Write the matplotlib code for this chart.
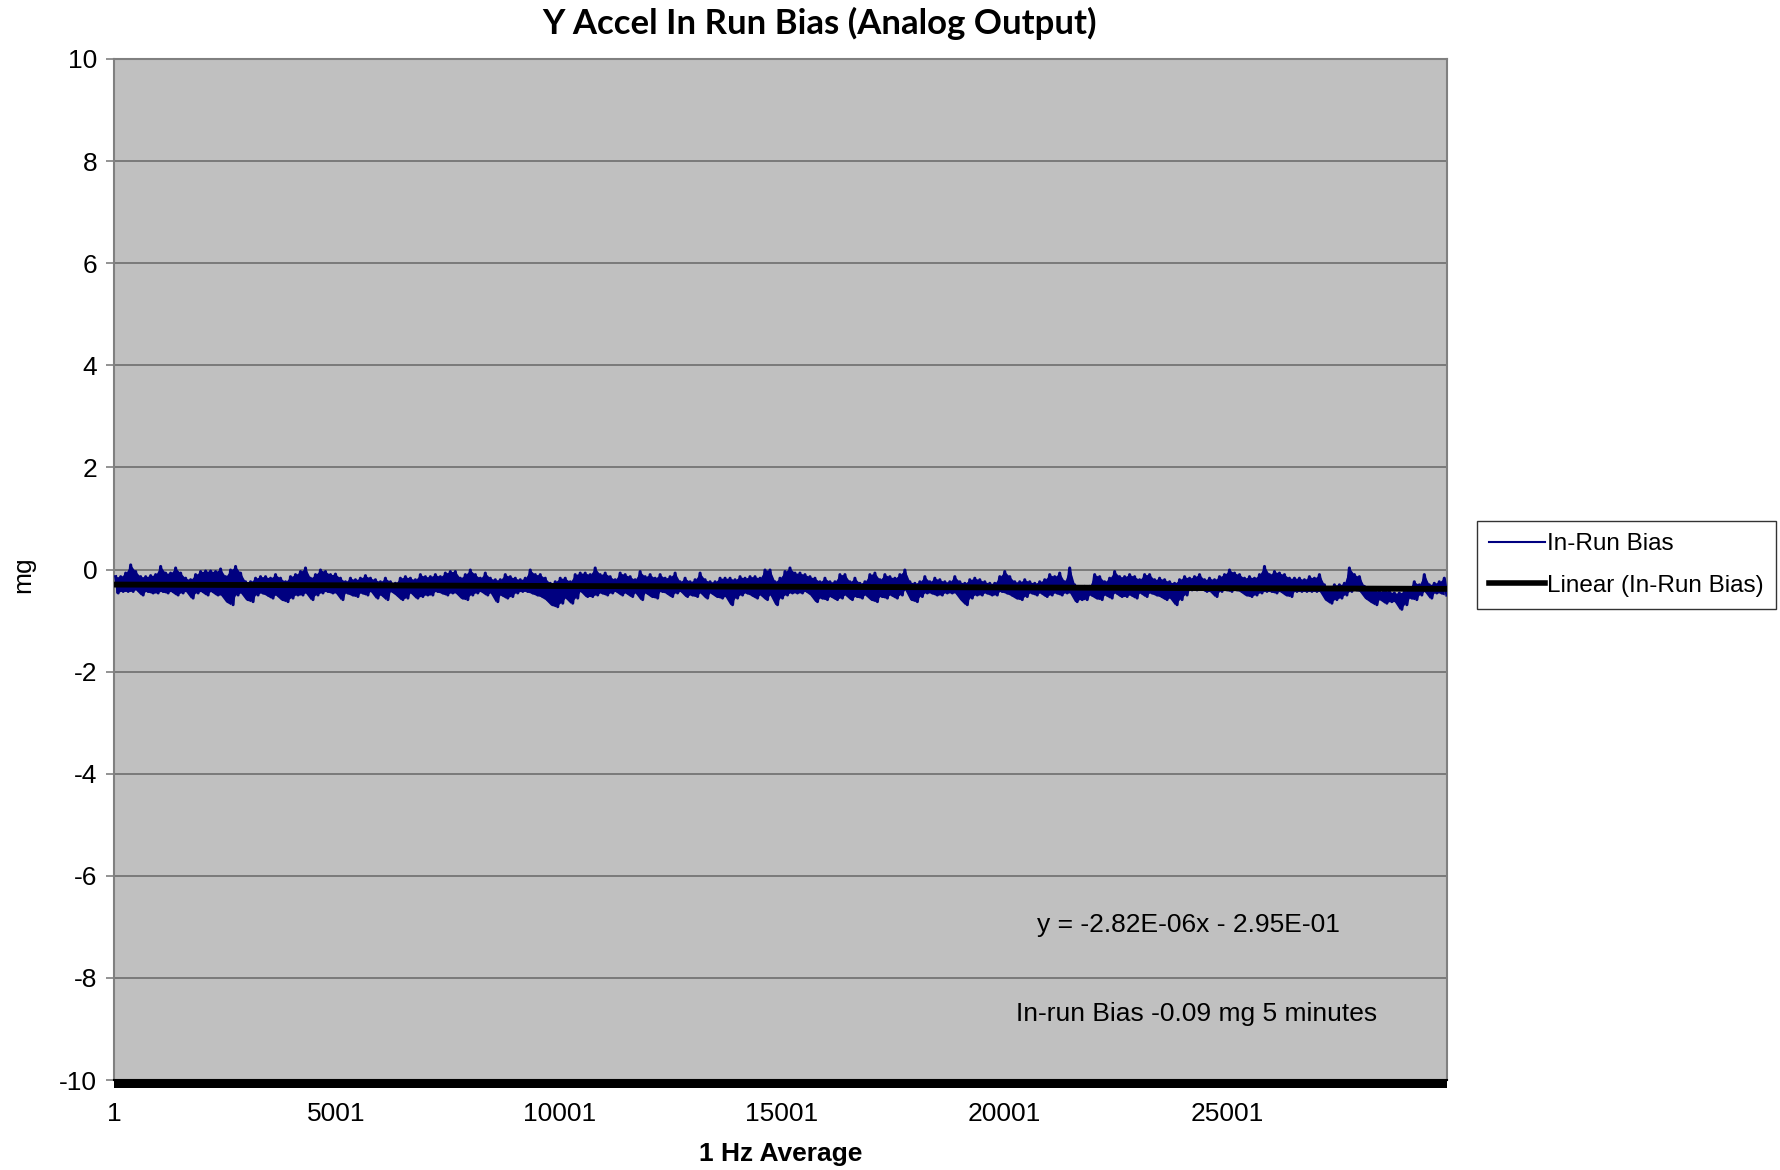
import numpy as np
import matplotlib
matplotlib.use("Agg")
import matplotlib.pyplot as plt
from matplotlib.patches import Rectangle
from matplotlib.lines import Line2D

# ---------------- data ----------------
title = "Y Accel In Run Bias (Analog Output)"
x_label = "1 Hz Average"
y_label = "mg"
x_ticks = [1, 5001, 10001, 15001, 20001, 25001]
y_ticks = [-10, -8, -6, -4, -2, 0, 2, 4, 6, 8, 10]
n_samples = 29945

first_sample = 39
sample_step = 112.2

# upper envelope of the 1 Hz trace (mg)
trace_top = [
    -0.14, -0.14, -0.07, 0.09, -0.04, -0.14, -0.14, -0.12, -0.10, 0.06,
    -0.07, -0.07, 0.03, -0.07, -0.17, -0.20, -0.10, -0.04, -0.03, -0.03,
    -0.04, 0.01, -0.14, -0.01, 0.06, -0.07, -0.24, -0.24, -0.17, -0.14,
    -0.14, -0.17, -0.10, -0.17, -0.24, -0.14, -0.10, -0.04, 0.03, -0.17,
    -0.10, -0.01, -0.04, -0.10, -0.09, -0.17, -0.24, -0.17, -0.20, -0.17,
    -0.12, -0.17, -0.20,
    -0.24, -0.17, -0.24, -0.27, -0.17, -0.14, -0.17, -0.20, -0.10, -0.14,
    -0.14, -0.10, -0.14, -0.07, -0.04, -0.04, -0.17, -0.10, -0.01, -0.10,
    -0.17, -0.07, -0.17, -0.20, -0.20, -0.10, -0.14, -0.17, -0.20, -0.17,
    -0.01, -0.10, -0.10, -0.17, -0.27, -0.24, -0.17, -0.17, -0.24, -0.10,
    -0.07, -0.07, -0.10, 0.03, -0.10, -0.07, -0.14, -0.20, -0.07, -0.10,
    -0.14, -0.20, -0.04, -0.14,
    -0.10, -0.17, -0.10, -0.17, -0.14, -0.07, -0.24, -0.17, -0.24, -0.20,
    -0.07, -0.20, -0.24, -0.24, -0.17, -0.17, -0.17, -0.20, -0.14, -0.17,
    -0.14, -0.14, -0.17, -0.01, -0.01, -0.24, -0.17, -0.04, 0.03, -0.07,
    -0.07, -0.10, -0.14, -0.17, -0.24, -0.17, -0.24, -0.24, -0.10, -0.10,
    -0.24, -0.17, -0.27, -0.24, -0.10, -0.07, -0.20, -0.10, -0.14, -0.17,
    -0.10, -0.01, -0.24, -0.27,
    -0.24, -0.14, -0.24, -0.17, -0.20, -0.24, -0.24, -0.14, -0.24, -0.27,
    -0.20, -0.17, -0.20, -0.24, -0.27, -0.27, -0.14, -0.04, -0.14, -0.24,
    -0.24, -0.20, -0.24, -0.27, -0.24, -0.20, -0.10, -0.14, -0.07, -0.24,
    0.03, -0.30, -0.37, -0.33, -0.33, -0.10, -0.14, -0.24, -0.17, -0.04,
    -0.14, -0.14, -0.10, -0.14, -0.20, -0.10, -0.10, -0.20, -0.17, -0.20,
    -0.24, -0.27, -0.20, -0.14,
    -0.17, -0.14, -0.10, -0.20, -0.17, -0.20, -0.14, -0.10, -0.01, -0.07,
    -0.10, -0.17, -0.14, -0.17, -0.10, 0.06, -0.10, -0.04, -0.07, -0.10,
    -0.17, -0.17, -0.17, -0.20, -0.14, -0.17, -0.10, -0.30, -0.37, -0.30,
    -0.30, -0.27, 0.03, -0.10, -0.14, -0.33, -0.40, -0.40, -0.43, -0.40,
    -0.43, -0.46, -0.46, -0.43, -0.37, -0.24, -0.30, -0.10, -0.30, -0.27,
    -0.24, -0.17,
]

# lower envelope of the 1 Hz trace (mg)
trace_bottom = [
    -0.46, -0.43, -0.43, -0.43, -0.40, -0.50, -0.43, -0.46, -0.46, -0.43,
    -0.46, -0.43, -0.50, -0.46, -0.43, -0.56, -0.46, -0.43, -0.50, -0.43,
    -0.50, -0.50, -0.63, -0.69, -0.50, -0.46, -0.59, -0.63, -0.50, -0.46,
    -0.50, -0.56, -0.50, -0.59, -0.63, -0.56, -0.50, -0.50, -0.46, -0.59,
    -0.50, -0.46, -0.43, -0.46, -0.46, -0.59, -0.46, -0.50, -0.53, -0.46,
    -0.50, -0.43, -0.56,
    -0.50, -0.59, -0.43, -0.50, -0.59, -0.56, -0.46, -0.56, -0.53, -0.50,
    -0.50, -0.43, -0.46, -0.50, -0.46, -0.46, -0.56, -0.59, -0.50, -0.46,
    -0.43, -0.50, -0.46, -0.63, -0.50, -0.56, -0.53, -0.46, -0.43, -0.43,
    -0.46, -0.50, -0.53, -0.59, -0.69, -0.73, -0.66, -0.56, -0.66, -0.56,
    -0.43, -0.53, -0.53, -0.50, -0.46, -0.50, -0.46, -0.43, -0.50, -0.46,
    -0.53, -0.46, -0.59, -0.46,
    -0.53, -0.56, -0.43, -0.46, -0.53, -0.46, -0.43, -0.53, -0.50, -0.53,
    -0.46, -0.56, -0.46, -0.53, -0.56, -0.53, -0.69, -0.56, -0.50, -0.46,
    -0.50, -0.56, -0.50, -0.59, -0.50, -0.69, -0.56, -0.50, -0.46, -0.46,
    -0.46, -0.43, -0.50, -0.63, -0.56, -0.59, -0.53, -0.59, -0.56, -0.50,
    -0.59, -0.53, -0.56, -0.50, -0.59, -0.63, -0.53, -0.56, -0.50, -0.56,
    -0.50, -0.40, -0.59, -0.63,
    -0.53, -0.46, -0.46, -0.50, -0.50, -0.46, -0.46, -0.46, -0.59, -0.69,
    -0.56, -0.50, -0.50, -0.46, -0.50, -0.50, -0.43, -0.46, -0.50, -0.56,
    -0.59, -0.53, -0.46, -0.50, -0.46, -0.53, -0.50, -0.46, -0.50, -0.46,
    -0.46, -0.63, -0.59, -0.59, -0.50, -0.56, -0.59, -0.50, -0.56, -0.46,
    -0.53, -0.53, -0.50, -0.56, -0.46, -0.53, -0.46, -0.50, -0.53, -0.59,
    -0.56, -0.69, -0.59, -0.50,
    -0.40, -0.40, -0.37, -0.43, -0.43, -0.53, -0.43, -0.40, -0.43, -0.40,
    -0.43, -0.50, -0.53, -0.50, -0.46, -0.43, -0.43, -0.46, -0.43, -0.50,
    -0.53, -0.43, -0.43, -0.43, -0.43, -0.43, -0.43, -0.59, -0.66, -0.59,
    -0.56, -0.50, -0.43, -0.40, -0.43, -0.56, -0.63, -0.69, -0.59, -0.66,
    -0.63, -0.63, -0.78, -0.69, -0.56, -0.59, -0.50, -0.43, -0.56, -0.46,
    -0.46, -0.50,
]

trend_slope = -2.82e-06
trend_intercept = -2.95e-01

equation_text = "y = -2.82E-06x - 2.95E-01"
note_text = "In-run Bias -0.09 mg 5 minutes"
legend_labels = ["In-Run Bias", "Linear (In-Run Bias)"]

# ---------------- plotting ----------------
plt.rcParams["font.family"] = ["Liberation Sans", "DejaVu Sans"]
plt.rcParams["axes.unicode_minus"] = False

fig = plt.figure(figsize=(17.8, 11.7), dpi=100)
fig.patch.set_facecolor("white")
ax = fig.add_axes([114 / 1780, 1 - 1080 / 1170, 1333 / 1780, 1021 / 1170])
ax.set_facecolor("#C0C0C0")

top = np.array(trace_top)
bot = np.array(trace_bottom)
xs = first_sample + sample_step * np.arange(len(top))

navy = "#000080"
ax.fill_between(xs, bot, top, color=navy, linewidth=0, zorder=3)
# zig-zag trace between the read envelopes
zx = np.empty(2 * len(xs))
zy = np.empty(2 * len(xs))
zx[0::2] = xs
zx[1::2] = xs + sample_step / 2
zy[0::2] = top
zy[1::2] = bot
ax.plot(zx, zy, color=navy, linewidth=2.2, zorder=3)

# linear trend line
tx = np.array([1, n_samples])
ax.plot(tx, trend_slope * tx + trend_intercept, color="black", linewidth=4.2,
        zorder=4, solid_capstyle="butt")

ax.set_xlim(1, n_samples)
ax.set_ylim(-10, 10)
ax.set_yticks(y_ticks)
ax.set_xticks(x_ticks)
ax.set_xticklabels([str(t) for t in x_ticks])
ax.grid(axis="y", color="#6e6e6e", linewidth=1.2, zorder=1)
ax.set_axisbelow(True)

ax.tick_params(axis="y", direction="out", length=6, width=1.2, color="#808080",
               labelsize=19, pad=6)
ax.tick_params(axis="x", length=0, labelsize=19, pad=16)

for s in ["left", "top", "right"]:
    ax.spines[s].set_color("#808080")
    ax.spines[s].set_linewidth(1.5)
ax.spines["bottom"].set_color("black")
ax.spines["bottom"].set_linewidth(1.5)
# dense category tick band below the x axis
ax.add_patch(Rectangle((0, -0.0075), 1, 0.0075, transform=ax.transAxes,
                       facecolor="black", edgecolor="none", clip_on=False, zorder=5))

fig.text(781 / 1780, 1 - 1154 / 1170, x_label, fontsize=19, fontweight="bold",
         ha="center", va="center")
fig.text(23 / 1780, 1 - 575 / 1170, y_label, fontsize=19, rotation=90,
         ha="center", va="center")

fig.text(820 / 1780, 1 - 23 / 1170, title, fontsize=25, fontweight="bold",
         family=["Lato", "DejaVu Sans"], ha="center", va="center")

ax.text(0.806, 0.152, equation_text, transform=ax.transAxes, fontsize=19,
        ha="center", va="center")
ax.text(0.8125, 0.0646, note_text, transform=ax.transAxes, fontsize=19,
        ha="center", va="center")

handles = [Line2D([], [], color=navy, linewidth=1.5),
           Line2D([], [], color="black", linewidth=4)]
leg = fig.legend(handles, legend_labels, loc="upper left",
                 bbox_to_anchor=(1477 / 1780, 1 - 521 / 1170),
                 fontsize=17.5, frameon=True, fancybox=False,
                 handlelength=2.3, handletextpad=0.1, borderpad=0.5,
                 labelspacing=0.8, borderaxespad=0)
leg.get_frame().set_edgecolor("black")
leg.get_frame().set_linewidth(1.0)

fig.savefig("out.png", dpi=100, facecolor="white")
